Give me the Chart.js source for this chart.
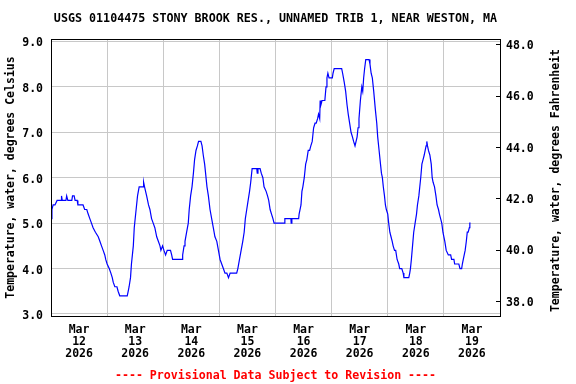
<!DOCTYPE html>
<html>
<head>
<meta charset="utf-8">
<script src="https://cdn.jsdelivr.net/npm/chart.js@4"></script>
<style>
  body { margin: 0; background: #fff; }
  #wrap { width: 576px; height: 384px; }
</style>
</head>
<body>
<div id="wrap"><canvas id="myChart"></canvas></div>
<script>
// hours since Mar 12 2026 00:00 and water temperature (deg C)
const hours = [
  0.0, 0.4, 0.9, 1.7, 2.6, 4.3, 4.5, 4.8, 6.4, 6.7, 7.2, 8.9, 9.2, 9.9, 10.3, 11.2, 11.5, 13.7, 14.4, 15.3,
  15.9, 16.6, 17.3, 18.0, 19.0, 20.2, 20.9, 21.6, 22.3, 23.0, 23.4, 24.0, 24.9, 25.6, 26.2, 26.6, 27.3, 28.2, 28.7, 29.4,
  32.6, 33.0, 33.4, 34.0, 34.4, 35.2, 35.6, 36.2, 36.6, 37.0, 37.7, 39.4, 39.6, 40.0, 40.9, 41.7, 42.3, 43.0, 43.7, 44.4,
  45.2, 45.9, 46.6, 47.0, 47.7, 48.3, 49.0, 49.7, 51.1, 51.6, 52.0, 56.1, 56.3, 56.9, 57.3, 58.0, 58.7, 59.1, 59.7, 60.3,
  60.9, 61.4, 62.0, 62.6, 63.1, 64.1, 64.6, 65.1, 65.7, 66.1, 66.7, 67.3, 68.0, 68.7, 69.4, 70.1, 70.9, 71.6, 72.3, 73.0,
  73.7, 74.4, 75.2, 75.9, 76.6, 79.4, 79.9, 80.6, 81.3, 82.0, 82.6, 83.1, 83.7, 84.3, 84.9, 85.4, 86.0, 88.0, 88.2, 88.5,
  89.4, 89.9, 90.6, 91.1, 92.0, 92.6, 93.1, 93.7, 94.3, 94.9, 95.4, 99.7, 100.0, 102.6, 102.7, 103.0, 105.9, 106.1, 106.9, 107.3,
  107.7, 108.3, 108.9, 109.4, 110.0, 110.6, 111.1, 111.7, 112.3, 112.9, 113.4, 114.0, 114.4, 114.9, 115.1, 115.4, 115.9, 117.1, 117.6, 118.0,
  118.4, 118.9, 120.3, 120.6, 121.1, 124.3, 124.7, 125.4, 126.0, 126.6, 127.1, 127.7, 128.3, 128.9, 129.4, 130.0, 130.4, 130.9, 131.3, 131.7,
  132.3, 132.9, 133.3, 133.7, 134.1, 134.6, 136.0, 136.4, 136.9, 137.4, 138.0, 138.7, 139.3, 139.7, 140.3, 140.9, 141.3, 141.7, 142.1, 142.6,
  143.0, 143.4, 144.0, 144.4, 144.9, 145.4, 145.9, 146.3, 146.9, 147.4, 148.0, 148.7, 149.1, 150.0, 150.6, 150.9, 153.0, 153.4, 153.7, 154.1,
  154.6, 155.1, 155.7, 156.3, 156.7, 157.3, 157.7, 158.1, 158.6, 159.1, 159.6, 160.0, 160.4, 160.7, 161.0, 161.4, 162.0, 162.6, 163.0, 163.4,
  164.0, 164.6, 165.1, 165.7, 166.1, 166.6, 167.1, 167.6, 168.0, 168.4, 169.0, 169.9, 170.9, 171.3, 172.3, 172.6, 174.4, 174.9, 175.6, 175.9,
  176.3, 176.7, 177.1, 177.6, 178.0, 178.4, 178.9, 179.1, 179.4
];
const tempC = [
  5.1, 5.3, 5.4, 5.4, 5.5, 5.5, 5.6, 5.5, 5.5, 5.6, 5.5, 5.5, 5.6, 5.6, 5.5, 5.5, 5.4, 5.4, 5.3, 5.3,
  5.2, 5.1, 5.0, 4.9, 4.8, 4.7, 4.6, 4.5, 4.4, 4.3, 4.2, 4.1, 4.0, 3.9, 3.8, 3.7, 3.6, 3.6, 3.5, 3.4,
  3.4, 3.5, 3.6, 3.8, 4.1, 4.5, 4.9, 5.2, 5.4, 5.6, 5.8, 5.8, 5.9, 5.8, 5.6, 5.4, 5.3, 5.1, 5.0, 4.9,
  4.7, 4.6, 4.5, 4.4, 4.5, 4.4, 4.3, 4.4, 4.4, 4.3, 4.2, 4.2, 4.3, 4.5, 4.6, 4.8, 5.0, 5.3, 5.6, 5.8,
  6.1, 6.4, 6.6, 6.7, 6.8, 6.8, 6.7, 6.5, 6.3, 6.1, 5.8, 5.6, 5.3, 5.1, 4.9, 4.7, 4.6, 4.4, 4.2, 4.1,
  4.0, 3.9, 3.9, 3.8, 3.9, 3.9, 4.0, 4.2, 4.4, 4.6, 4.8, 5.1, 5.3, 5.5, 5.7, 5.9, 6.2, 6.2, 6.1, 6.2,
  6.2, 6.1, 6.0, 5.8, 5.7, 5.6, 5.5, 5.3, 5.2, 5.1, 5.0, 5.0, 5.1, 5.1, 5.0, 5.1, 5.1, 5.2, 5.4, 5.7,
  5.8, 6.0, 6.3, 6.4, 6.6, 6.6, 6.7, 6.8, 7.1, 7.2, 7.2, 7.3, 7.4, 7.3, 7.7, 7.6, 7.7, 7.7, 8.0, 8.2,
  8.3, 8.2, 8.2, 8.3, 8.4, 8.4, 8.3, 8.1, 7.9, 7.6, 7.4, 7.2, 7.0, 6.9, 6.8, 6.7, 6.7, 6.9, 7.1, 7.3,
  7.7, 8.0, 7.9, 8.2, 8.4, 8.6, 8.6, 8.5, 8.3, 8.2, 7.9, 7.5, 7.2, 6.9, 6.6, 6.3, 6.1, 6.0, 5.8, 5.6,
  5.4, 5.3, 5.2, 5.0, 4.8, 4.7, 4.6, 4.5, 4.4, 4.4, 4.2, 4.1, 4.0, 4.0, 3.9, 3.8, 3.8, 3.9, 4.0, 4.2,
  4.5, 4.8, 5.0, 5.2, 5.4, 5.6, 5.8, 6.0, 6.3, 6.4, 6.5, 6.6, 6.7, 6.8, 6.7, 6.6, 6.5, 6.3, 6.0, 5.9,
  5.8, 5.6, 5.4, 5.3, 5.2, 5.1, 5.0, 4.8, 4.7, 4.6, 4.4, 4.3, 4.3, 4.2, 4.2, 4.1, 4.1, 4.0, 4.0, 4.1,
  4.2, 4.3, 4.4, 4.6, 4.8, 4.8, 4.9, 5.0, 5.0
];

const monthLabel = 'Mar';
const dayLabels = ['12', '13', '14', '15', '16', '17', '18', '19'];
const yearLabel = '2026';
const celsiusTicks = [3, 4, 5, 6, 7, 8, 9];
const fahrenheitTicks = [38, 40, 42, 44, 46, 48];

const titleText = 'USGS 01104475 STONY BROOK RES., UNNAMED TRIB 1, NEAR WESTON, MA';
const leftAxisTitle = 'Temperature, water, degrees Celsius';
const rightAxisTitle = 'Temperature, water, degrees Fahrenheit';
const footerText = '---- Provisional Data Subject to Revision ----';

const gridGray = '#c8c8c8';
const fontFamily = '"DejaVu Sans Mono", monospace';

Chart.defaults.font.family = fontFamily;
Chart.defaults.font.size = 11.5;
Chart.defaults.font.weight = 'bold';
Chart.defaults.color = '#000';

// one tick every 12 h: midnight -> grid line, noon -> date label
const xTicks = dayLabels.flatMap((d, i) => [i * 24, i * 24 + 12]).concat([dayLabels.length * 24]);

// frame round the plot area
const framePlugin = {
    id: 'frame',
    afterDatasetsDraw(chart) {
        const { ctx, chartArea: a } = chart;
        ctx.save();
        ctx.strokeStyle = '#000';
        ctx.lineWidth = 1;
        ctx.strokeRect(Math.round(a.left) + 0.5, Math.round(a.top) + 0.5,
            Math.round(a.right - a.left), Math.round(a.bottom - a.top));
        ctx.restore();
    }
};

// right axis title reads bottom to top, like the left one
const rightTitlePlugin = {
    id: 'rightTitle',
    afterDraw(chart) {
        const { ctx, chartArea: a } = chart;
        ctx.save();
        ctx.translate(556, (a.top + a.bottom) / 2 + 3);
        ctx.rotate(-Math.PI / 2);
        ctx.font = 'bold 11.5px ' + fontFamily;
        ctx.fillStyle = '#000';
        ctx.textAlign = 'center';
        ctx.textBaseline = 'middle';
        ctx.fillText(rightAxisTitle, 0, 0);
        ctx.restore();
    }
};

const chartEl = document.getElementById('myChart');
new Chart(chartEl, {
    type: 'line',
    data: {
        datasets: [{
            data: hours.map((h, i) => ({ x: h, y: tempC[i] })),
            borderColor: '#0000ff',
            borderWidth: 1.2,
            pointRadius: 0,
            tension: 0,
            yAxisID: 'y'
        }]
    },
    options: {
        responsive: true,
        maintainAspectRatio: false,
        animation: false,
        layout: { padding: 0 },
        plugins: {
            legend: { display: false },
            tooltip: { enabled: false },
            title: {
                display: true,
                text: titleText,
                fullSize: false,
                color: '#000',
                font: { size: 11.7, weight: 'bold', lineHeight: 1.2 },
                padding: { top: 12, bottom: 13 }
            },
            subtitle: {
                display: true,
                position: 'bottom',
                text: footerText,
                fullSize: false,
                color: '#ff0000',
                font: { size: 11.6, weight: 'bold', lineHeight: 1.2 },
                padding: { top: 0, bottom: 1 }
            }
        },
        scales: {
            x: {
                type: 'linear',
                min: 0,
                max: 192,
                afterBuildTicks: s => { s.ticks = xTicks.map(v => ({ value: v })); },
                afterFit: s => { s.height = 53.1; },
                border: { display: false },
                grid: {
                    drawTicks: false,
                    color: c => (c.tick && c.tick.value % 24 === 0 && c.tick.value > 0 && c.tick.value < 192) ? gridGray : 'rgba(0,0,0,0)'
                },
                ticks: {
                    autoSkip: false,
                    maxRotation: 0,
                    padding: 8.5,
                    font: { size: 11.5, weight: 'bold', lineHeight: 1.04 },
                    callback: v => v % 24 === 12 ? [monthLabel, dayLabels[(v - 12) / 24], yearLabel] : ''
                }
            },
            y: {
                position: 'left',
                min: 2.956,
                max: 9.053,
                afterBuildTicks: s => { s.ticks = celsiusTicks.map(v => ({ value: v })); },
                afterFit: s => { s.width = 51; },
                border: { display: false },
                grid: { color: gridGray, drawTicks: false },
                ticks: { padding: 8, labelOffset: 2, callback: v => v.toFixed(1) },
                title: {
                    display: true,
                    text: leftAxisTitle,
                    padding: { top: 4, bottom: 0 }
                }
            },
            y2: {
                position: 'right',
                min: 37.45,
                max: 48.22,
                afterBuildTicks: s => { s.ticks = fahrenheitTicks.map(v => ({ value: v })); },
                afterFit: s => { s.width = 76; },
                border: { display: false },
                grid: { drawOnChartArea: false, drawTicks: true, tickLength: -4, color: '#000' },
                ticks: { padding: 10, labelOffset: 1, callback: v => v.toFixed(1) }
            }
        }
    },
    plugins: [framePlugin, rightTitlePlugin]
});
</script>
</body>
</html>
